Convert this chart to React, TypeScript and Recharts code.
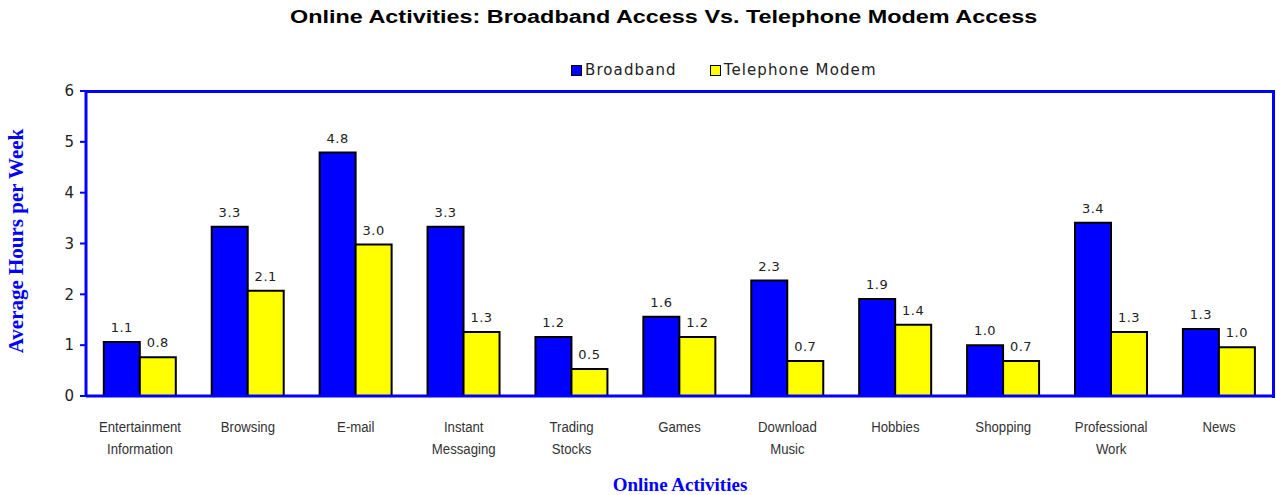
import { BarChart, Bar, XAxis, YAxis, LabelList } from 'recharts'

const CATEGORIES = [
  'Entertainment\nInformation',
  'Browsing',
  'E-mail',
  'Instant\nMessaging',
  'Trading\nStocks',
  'Games',
  'Download\nMusic',
  'Hobbies',
  'Shopping',
  'Professional\nWork',
  'News'
]
const BROADBAND = [1.06, 3.33, 4.79, 3.33, 1.16, 1.56, 2.27, 1.91, 1.0, 3.41, 1.32]
const MODEM = [0.76, 2.07, 2.98, 1.26, 0.53, 1.16, 0.69, 1.4, 0.69, 1.26, 0.96]
const Y_TICKS = [0, 1, 2, 3, 4, 5, 6]

const data = CATEGORIES.map((name, i) => ({
  name,
  broadband: BROADBAND[i],
  modem: MODEM[i]
}))

const BLUE = '#0000ff'
const YELLOW = '#ffff00'

function CategoryTick({ x, y, payload }: any) {
  const lines = String(payload.value).split('\n')
  return (
    <g transform={`translate(${x},${y + 28}) scale(0.88,1)`}>
      <text
        x={0}
        y={0}
        textAnchor="middle"
        fontFamily="'Liberation Sans', Arial"
        fontSize={15}
        fill="#333"
      >
        {lines.map((l: string, i: number) => (
          <tspan key={i} x={0} dy={i === 0 ? 0 : 22}>
            {l}
          </tspan>
        ))}
      </text>
    </g>
  )
}

function LegendBox() {
  const items = [
    { label: 'Broadband', color: BLUE },
    { label: 'Telephone Modem', color: YELLOW }
  ]
  return (
    <div
      style={{
        position: 'absolute',
        top: 61,
        left: 571,
        display: 'flex',
        gap: 33,
        fontFamily: "'DejaVu Sans', Verdana",
        fontSize: 15,
        letterSpacing: 1.1,
        color: '#222',
        whiteSpace: 'nowrap'
      }}
    >
      {items.map((it) => (
        <div key={it.label} style={{ display: 'flex', alignItems: 'center' }}>
          <span style={{ display: 'inline-block', width: 9, height: 9, background: it.color, border: '1.5px solid #000', marginRight: 3 }} />
          <span>{it.label}</span>
        </div>
      ))}
    </div>
  )
}

export default function App() {
  return (
    <div style={{ position: 'absolute', left: 0, top: 0, width: 1276, height: 495, background: '#fff', overflow: 'hidden' }}>
      <div
        style={{
          position: 'absolute',
          top: 7,
          left: 0,
          width: 1327,
          textAlign: 'center',
          fontFamily: "'Liberation Sans', Arial",
          fontWeight: 'bold',
          fontSize: 18,
          color: '#000',
          transform: 'scaleX(1.3)',
          transformOrigin: '663px 0'
        }}
      >
        Online Activities: Broadband Access Vs. Telephone Modem Access
      </div>
      <LegendBox />
      <div
        style={{
          position: 'absolute',
          left: 0,
          top: 476,
          width: 1360,
          textAlign: 'center',
          fontFamily: "'Liberation Serif', 'Times New Roman'",
          fontWeight: 'bold',
          fontSize: 19,
          lineHeight: '18px',
          color: BLUE
        }}
      >
        Online Activities
      </div>
      <div
        style={{
          position: 'absolute',
          left: 16,
          top: 241,
          transform: 'translate(-50%, -50%) rotate(-90deg)',
          whiteSpace: 'nowrap',
          fontFamily: "'Liberation Serif', 'Times New Roman'",
          fontWeight: 'bold',
          fontSize: 21,
          color: BLUE
        }}
      >
        Average Hours per Week
      </div>
      <BarChart
        width={1276}
        height={495}
        data={data}
        margin={{ top: 91, right: 3, left: 29, bottom: 39 }}
        barCategoryGap="16.5%"
        barGap={0}
        style={{ position: 'absolute', left: 0, top: 0 }}
      >
        <XAxis
          dataKey="name"
          tick={<CategoryTick />}
          tickLine={false}
          axisLine={{ stroke: BLUE, strokeWidth: 3 }}
          height={60}
          interval={0}
        />
        <YAxis
          domain={[0, 6]}
          ticks={Y_TICKS}
          width={57}
          tickLine={{ stroke: BLUE, strokeWidth: 2 }}
          tickSize={6}
          tickMargin={6}
          axisLine={{ stroke: BLUE, strokeWidth: 3 }}
          tick={{ fill: '#222', fontSize: 15, fontFamily: "'DejaVu Sans', Verdana" }}
        />
        <Bar dataKey="broadband" name="Broadband" fill={BLUE} stroke="#000" strokeWidth={2} isAnimationActive={false}>
          <LabelList
            dataKey="broadband"
            position="top"
            offset={10}
            formatter={(v: any) => Number(v).toFixed(1)}
            style={{ fill: '#222', fontSize: 13, letterSpacing: 0.5, fontFamily: "'DejaVu Sans', Verdana" }}
          />
        </Bar>
        <Bar dataKey="modem" name="Telephone Modem" fill={YELLOW} stroke="#000" strokeWidth={2} isAnimationActive={false}>
          <LabelList
            dataKey="modem"
            position="top"
            offset={10}
            formatter={(v: any) => Number(v).toFixed(1)}
            style={{ fill: '#222', fontSize: 13, letterSpacing: 0.5, fontFamily: "'DejaVu Sans', Verdana" }}
          />
        </Bar>
      </BarChart>
      {/* plot frame: top and right edges */}
      <div
        style={{
          position: 'absolute',
          left: 86,
          top: 90,
          width: 1186,
          height: 305,
          borderTop: `3px solid ${BLUE}`,
          borderRight: `3px solid ${BLUE}`,
          pointerEvents: 'none'
        }}
      />
    </div>
  )
}
